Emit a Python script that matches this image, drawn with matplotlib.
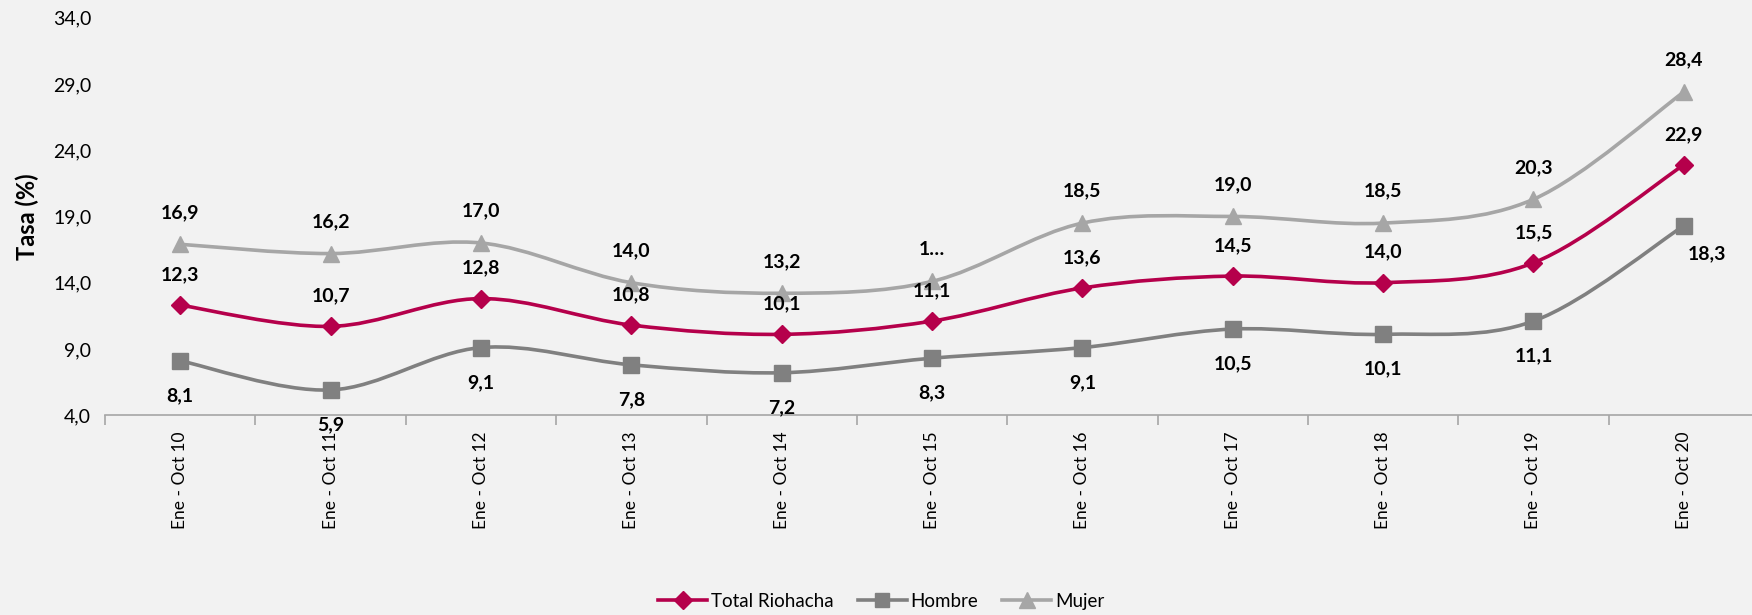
import matplotlib
matplotlib.use("Agg")
import matplotlib.pyplot as plt
from matplotlib.path import Path
from matplotlib.patches import PathPatch
from matplotlib.lines import Line2D

categories = ["Ene - Oct 10", "Ene - Oct 11", "Ene - Oct 12", "Ene - Oct 13", "Ene - Oct 14",
              "Ene - Oct 15", "Ene - Oct 16", "Ene - Oct 17", "Ene - Oct 18", "Ene - Oct 19",
              "Ene - Oct 20"]
total = [12.3, 10.7, 12.8, 10.8, 10.1, 11.1, 13.6, 14.5, 14.0, 15.5, 22.9]
hombre = [8.1, 5.9, 9.1, 7.8, 7.2, 8.3, 9.1, 10.5, 10.1, 11.1, 18.3]
mujer = [16.9, 16.2, 17.0, 14.0, 13.2, 14.1, 18.5, 19.0, 18.5, 20.3, 28.4]
mujer_labels = ["16,9", "16,2", "17,0", "14,0", "13,2", "1…", "18,5", "19,0", "18,5", "20,3", "28,4"]
yticks = [4.0, 9.0, 14.0, 19.0, 24.0, 29.0, 34.0]

FONT = "Lato"
plt.rcParams['font.family'] = [FONT, 'DejaVu Sans']

BG = "#F2F2F2"
C_TOTAL = "#B5004B"
C_HOMBRE = "#808080"
C_MUJER = "#A6A6A6"

fig = plt.figure(figsize=(17.52, 6.15), dpi=100, facecolor=BG)
ax = fig.add_axes([0.06, 0.325, 0.944, 0.646], facecolor=BG)


def smooth_path(xs, ys):
    pts = list(zip(xs, ys))
    verts = [pts[0]]
    codes = [Path.MOVETO]
    n = len(pts)
    for i in range(n - 1):
        p0 = pts[i - 1] if i > 0 else pts[i]
        p1 = pts[i]
        p2 = pts[i + 1]
        p3 = pts[i + 2] if i + 2 < n else pts[i + 1]
        c1 = (p1[0] + (p2[0] - p0[0]) / 6.0, p1[1] + (p2[1] - p0[1]) / 6.0)
        c2 = (p2[0] - (p3[0] - p1[0]) / 6.0, p2[1] - (p3[1] - p1[1]) / 6.0)
        verts += [c1, c2, p2]
        codes += [Path.CURVE4] * 3
    return Path(verts, codes)


x = list(range(len(categories)))
series = [
    (mujer, C_MUJER, "^", 12, "Mujer"),
    (total, C_TOTAL, "D", 9, "Total Riohacha"),
    (hombre, C_HOMBRE, "s", 11, "Hombre"),
]
for vals, col, mk, ms, name in series:
    ax.add_patch(PathPatch(smooth_path(x, vals), fill=False, edgecolor=col, lw=2.6,
                           capstyle='round', joinstyle='round', zorder=3))
    ax.plot(x, vals, linestyle='none', marker=mk, markersize=ms, color=col,
            markeredgecolor=col, zorder=4)


def fmt(v):
    return f"{v:.1f}".replace(".", ",")


lab_kw = dict(ha='center', va='center', fontsize=14, fontweight='bold', color='black',
              textcoords='offset points', zorder=5)
for i, v in enumerate(mujer):
    ax.annotate(mujer_labels[i], (i, v), xytext=(0, 23), **lab_kw)
for i, v in enumerate(total):
    ax.annotate(fmt(v), (i, v), xytext=(0, 22), **lab_kw)
for i, v in enumerate(hombre):
    if i == len(hombre) - 1:
        ax.annotate(fmt(v), (i, v), xytext=(17, -20), **lab_kw)
    else:
        ax.annotate(fmt(v), (i, v), xytext=(0, -25), **lab_kw)

ax.set_xlim(-0.5, len(categories) - 0.5)
ax.set_ylim(4, 34)
ax.set_yticks(yticks)
ax.set_yticklabels([fmt(t) for t in yticks], fontsize=14)
ax.tick_params(axis='y', length=0, pad=10)
ax.set_xticks(x)
ax.set_xticklabels(categories, rotation=90, fontsize=12.5)
ax.set_xticks([i + 0.5 for i in range(-1, len(categories))], minor=True)
ax.tick_params(axis='x', which='major', length=0, pad=12)
ax.tick_params(axis='x', which='minor', length=7, color='#A6A6A6', width=1.2)
for s in ['top', 'right', 'left']:
    ax.spines[s].set_visible(False)
ax.spines['bottom'].set_color('#A6A6A6')
ax.spines['bottom'].set_linewidth(1.2)

ax.set_ylabel("Tasa (%)", fontsize=17, fontweight='bold', labelpad=10)

handles = [
    Line2D([], [], color=C_TOTAL, lw=2.6, marker='D', markersize=9, label="Total Riohacha"),
    Line2D([], [], color=C_HOMBRE, lw=2.6, marker='s', markersize=10, label="Hombre"),
    Line2D([], [], color=C_MUJER, lw=2.6, marker='^', markersize=11, label="Mujer"),
]
fig.legend(handles=handles, loc='center', bbox_to_anchor=(0.503, 0.022), ncol=3,
           frameon=False, fontsize=13.5, handlelength=2.6, columnspacing=1.3,
           handletextpad=0.2)

fig.savefig("out.png", dpi=100, facecolor=BG)
